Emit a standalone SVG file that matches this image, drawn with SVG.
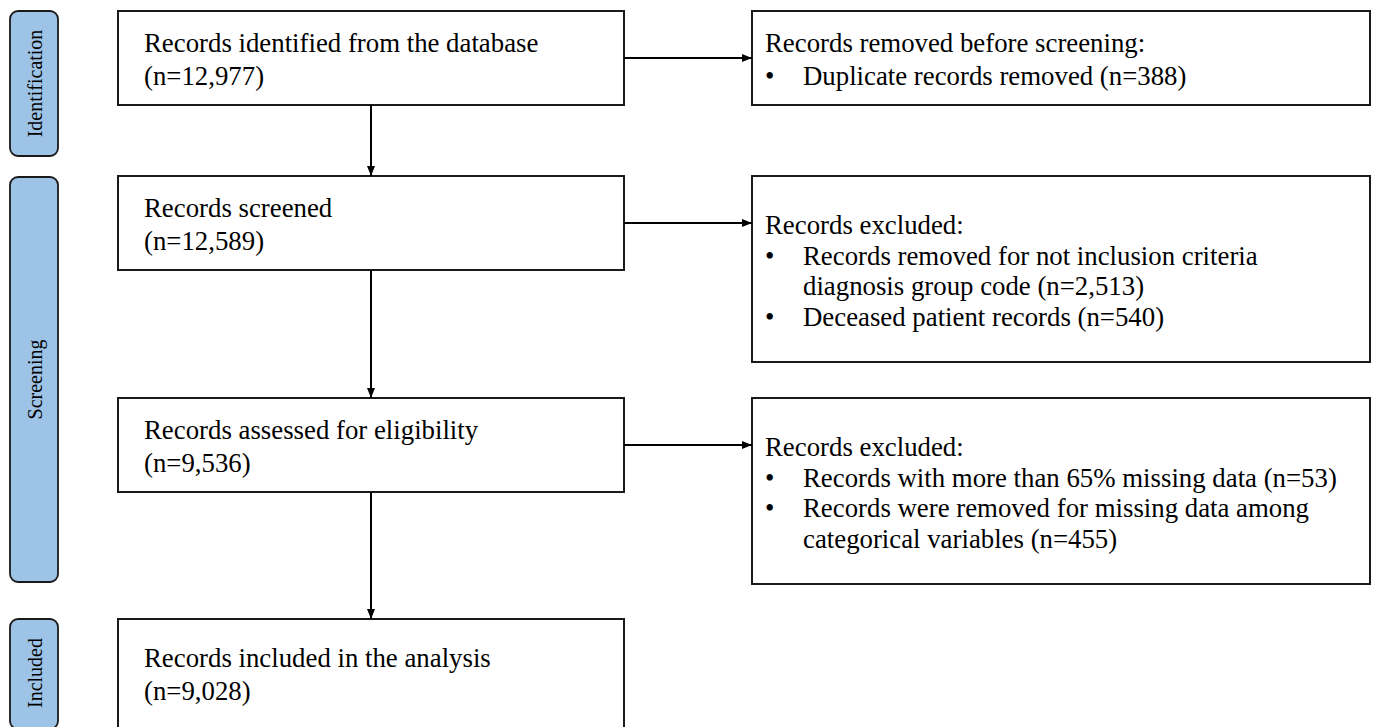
<svg xmlns="http://www.w3.org/2000/svg" width="1378" height="727" viewBox="0 0 1378 727">
<style>
.box{fill:#ffffff;stroke:#1a1a1a;stroke-width:2}
.phase{fill:#9dc3e6;stroke:#1a1a1a;stroke-width:1.8}
.t{font-family:"Liberation Serif","Times New Roman","DejaVu Serif",serif;font-size:26.8px;fill:#000}
.pt{font-family:"Liberation Serif","Times New Roman","DejaVu Serif",serif;font-size:20px;fill:#000;text-anchor:middle;dominant-baseline:central}
.conn{stroke:#000;stroke-width:2;fill:none;marker-end:url(#ah)}
</style>
<defs>
<marker id="ah" viewBox="0 0 10 10" refX="10" refY="5" markerWidth="10" markerHeight="10" markerUnits="userSpaceOnUse" orient="auto">
<path d="M0,1 L10,5 L0,9 Z" fill="#000"/>
</marker>
</defs>
<rect width="1378" height="727" fill="#ffffff"/>

<g id="phase-identification">
<rect class="phase" x="10" y="11" width="48" height="145" rx="8"/>
<text class="pt" transform="translate(35,83.5) rotate(-90)">Identification</text>
</g>
<g id="phase-screening">
<rect class="phase" x="10" y="177" width="48" height="405" rx="8"/>
<text class="pt" transform="translate(35,379.5) rotate(-90)">Screening</text>
</g>
<g id="phase-included">
<rect class="phase" x="10" y="619" width="48" height="110" rx="8"/>
<text class="pt" transform="translate(35,673) rotate(-90)">Included</text>
</g>

<g id="node-identified">
<rect class="box" x="118" y="11" width="506" height="94"/>
<text class="t" x="144" y="52">Records identified from the database</text>
<text class="t" x="144" y="85">(n=12,977)</text>
</g>
<g id="node-removed-before">
<rect class="box" x="752" y="11" width="618" height="94"/>
<text class="t" x="765" y="52">Records removed before screening:</text>
<text class="t" x="765" y="85">•</text>
<text class="t" x="803" y="85">Duplicate records removed (n=388)</text>
</g>
<g id="node-screened">
<rect class="box" x="118" y="176" width="506" height="94"/>
<text class="t" x="144" y="217">Records screened</text>
<text class="t" x="144" y="250">(n=12,589)</text>
</g>
<g id="node-excluded-1">
<rect class="box" x="752" y="176" width="618" height="186"/>
<text class="t" x="765" y="234">Records excluded:</text>
<text class="t" x="765" y="264.7">•</text>
<text class="t" x="803" y="264.7">Records removed for not inclusion criteria</text>
<text class="t" x="803" y="295.3">diagnosis group code (n=2,513)</text>
<text class="t" x="765" y="326">•</text>
<text class="t" x="803" y="326">Deceased patient records (n=540)</text>
</g>
<g id="node-assessed">
<rect class="box" x="118" y="398" width="506" height="94"/>
<text class="t" x="144" y="439">Records assessed for eligibility</text>
<text class="t" x="144" y="472">(n=9,536)</text>
</g>
<g id="node-excluded-2">
<rect class="box" x="752" y="398" width="618" height="186"/>
<text class="t" x="765" y="456">Records excluded:</text>
<text class="t" x="765" y="486.7">•</text>
<text class="t" x="803" y="486.7">Records with more than 65% missing data (n=53)</text>
<text class="t" x="765" y="517.3">•</text>
<text class="t" x="803" y="517.3">Records were removed for missing data among</text>
<text class="t" x="803" y="548">categorical variables (n=455)</text>
</g>
<g id="node-included">
<rect class="box" x="118" y="619" width="506" height="114"/>
<text class="t" x="144" y="667">Records included in the analysis</text>
<text class="t" x="144" y="700">(n=9,028)</text>
</g>

<g id="connectors">
<line class="conn" x1="624" y1="58" x2="752" y2="58"/>
<line class="conn" x1="371" y1="105" x2="371" y2="176"/>
<line class="conn" x1="624" y1="223" x2="752" y2="223"/>
<line class="conn" x1="371" y1="270" x2="371" y2="398"/>
<line class="conn" x1="624" y1="445" x2="752" y2="445"/>
<line class="conn" x1="371" y1="492" x2="371" y2="619"/>
</g>
</svg>
